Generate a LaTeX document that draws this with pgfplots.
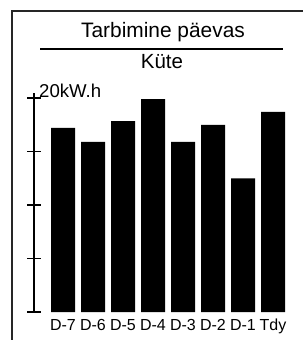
\documentclass[border=0pt]{standalone}
\usepackage{fontspec}
\setmainfont{Liberation Sans}
\usepackage{pgfplots}
\pgfplotsset{compat=1.18}
\begin{document}
\begin{tikzpicture}[x=1pt,y=1pt]
\path[use as bounding box] (0,0) rectangle (303,-340);
\draw[black!85, line width=1.2pt] (12,-340) -- (12,-11) -- (303,-11);
\node[anchor=base, inner sep=0pt, font=\fontsize{20.9}{24}\selectfont] at (163,-37) {Tarbimine päevas};
\draw[line width=1.3pt] (40,-49) -- (283,-49);
\node[anchor=base, inner sep=0pt, font=\fontsize{20.5}{24}\selectfont] at (162,-68.3) {Küte};
\node[anchor=base west, inner sep=0pt, font=\fontsize{18.6}{20}\selectfont] at (39,-97) {20kW.h};
\begin{axis}[
  at={(34pt,-312pt)}, anchor=south west,
  scale only axis, width=254pt, height=219pt,
  xmin=-0.9667, xmax=7.5, ymin=0, ymax=20.47,
  axis lines=left, axis line style={-, line width=1.4pt},
  x axis line style={draw=none},
  ytick={0,5,10,15,20}, yticklabels={},
  tick align=center, major tick length=13pt,
  ytick style={line width=1.3pt, black},
  xtick={0,...,7}, xticklabels={D-7,D-6,D-5,D-4,D-3,D-2,D-1,Tdy},
  xtick style={draw=none},
  xticklabel style={inner sep=0pt, font=\fontsize{16}{18}\selectfont},
  xticklabel shift=0.5pt,
]
\addplot[ybar, bar width=24pt, fill=black, draw=none] coordinates {
  (0,17.2) (1,15.9) (2,17.85) (3,19.9) (4,15.9) (5,17.5) (6,12.5) (7,18.7)};
\end{axis}
\end{tikzpicture}
\end{document}
